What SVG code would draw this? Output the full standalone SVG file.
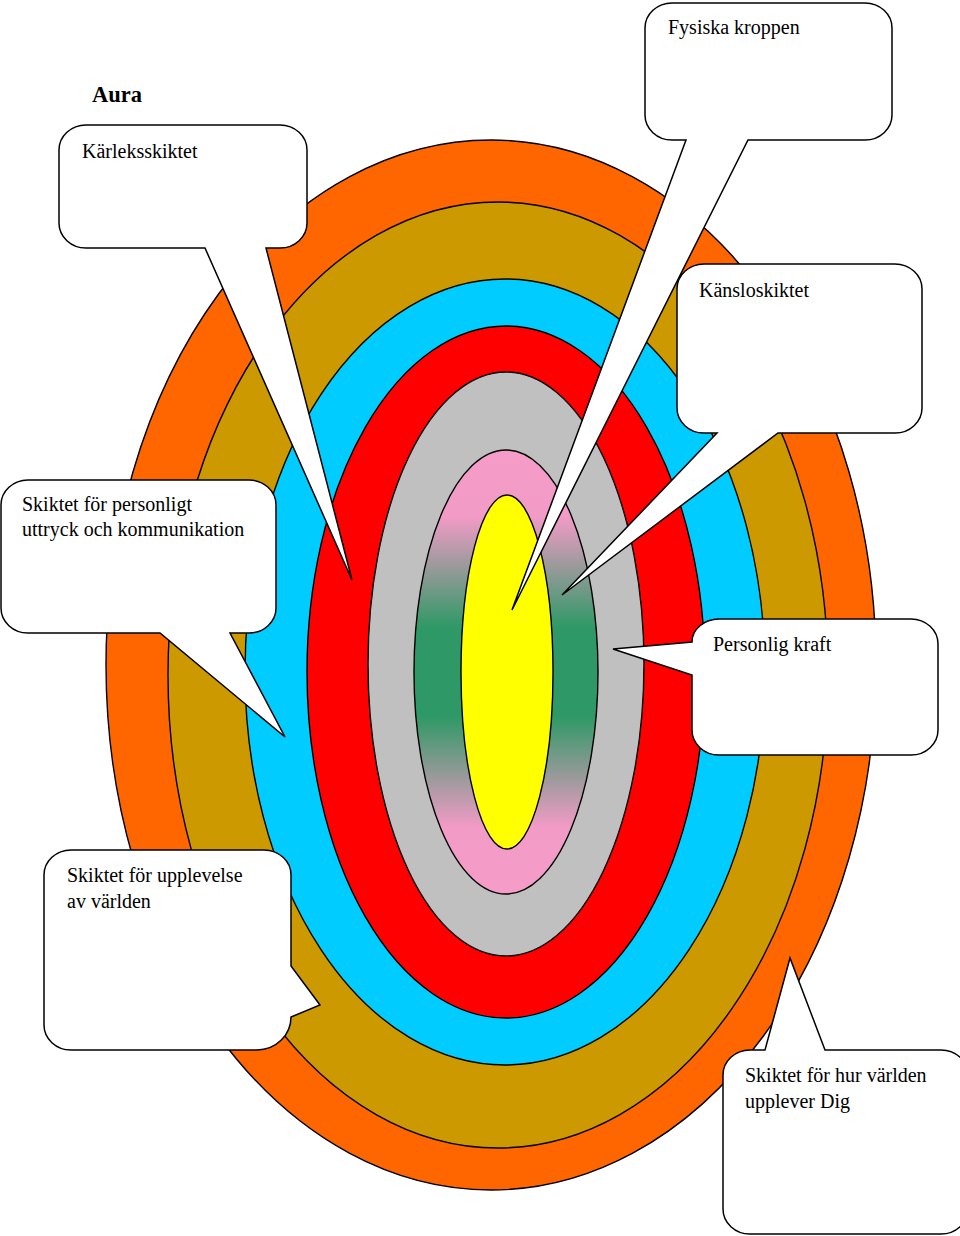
<svg xmlns="http://www.w3.org/2000/svg" width="960" height="1236" viewBox="0 0 960 1236">
  <defs>
    <linearGradient id="pinkGreen" x1="0" y1="0" x2="0" y2="1">
      <stop offset="0" stop-color="#F59CC8"/>
      <stop offset="0.15" stop-color="#F29BC6"/>
      <stop offset="0.4" stop-color="#2E9966"/>
      <stop offset="0.6" stop-color="#2E9966"/>
      <stop offset="0.85" stop-color="#F29BC6"/>
      <stop offset="1" stop-color="#F59CC8"/>
    </linearGradient>
    <style>
      .ring { stroke: #000; stroke-width: 1.4; }
      .callout { fill: #fff; stroke: #000; stroke-width: 1.5; stroke-linejoin: miter; }
      .lbl { font-family: "Liberation Serif", "Times New Roman", serif; font-size: 20px; fill: #000; }
      .title { font-family: "Liberation Serif", "Times New Roman", serif; font-size: 22.5px; font-weight: bold; fill: #000; }
    </style>
  </defs>
  <rect x="0" y="0" width="960" height="1236" fill="#fff"/>

  <g id="aura-rings">
    <ellipse id="ring-orange" class="ring" cx="491" cy="665" rx="385" ry="525" fill="#FF6600"/>
    <ellipse id="ring-gold" class="ring" cx="498" cy="675" rx="330" ry="473" fill="#CC9900"/>
    <ellipse id="ring-cyan" class="ring" cx="505" cy="672" rx="260" ry="393" fill="#00CCFF"/>
    <ellipse id="ring-red" class="ring" cx="506" cy="672" rx="199" ry="346" fill="#FF0000"/>
    <ellipse id="ring-gray" class="ring" cx="506" cy="664" rx="138" ry="292" fill="#C0C0C0"/>
    <ellipse id="ring-pink" class="ring" cx="506" cy="672" rx="92" ry="222" fill="url(#pinkGreen)"/>
    <ellipse id="ring-yellow" class="ring" cx="507" cy="672" rx="46" ry="177" fill="#FFFF00"/>
  </g>

  <g id="title">
    <text class="title" x="92" y="102">Aura</text>
  </g>

  <g id="callout-karleksskiktet">
    <path class="callout" d="M86,125 H280 A27 25 0 0 1 307,150 V223 A27 25 0 0 1 280,248 H266 L352,580 L205,248 H86 A27 25 0 0 1 59,223 V150 A27 25 0 0 1 86,125 Z"/>
    <text class="lbl" x="82" y="158">Kärleksskiktet</text>
  </g>

  <g id="callout-personligt-uttryck">
    <path class="callout" d="M28,480 H249 A27 25 0 0 1 276,505 V608 A27 25 0 0 1 249,633 H230 L285,737 L160,633 H28 A27 25 0 0 1 1,608 V505 A27 25 0 0 1 28,480 Z"/>
    <text class="lbl" x="22" y="511">Skiktet för personligt</text>
    <text class="lbl" x="22" y="536">uttryck och kommunikation</text>
  </g>

  <g id="callout-fysiska-kroppen">
    <path class="callout" d="M672,3 H865 A27 25 0 0 1 892,28 V115 A27 25 0 0 1 865,140 H748 L512,610 L686,140 H672 A27 25 0 0 1 645,115 V28 A27 25 0 0 1 672,3 Z"/>
    <text class="lbl" x="668" y="34">Fysiska kroppen</text>
  </g>

  <g id="callout-kansloskiktet">
    <path class="callout" d="M704,264 H895 A27 25 0 0 1 922,289 V408 A27 25 0 0 1 895,433 H778 L562,595 L717,433 H704 A27 25 0 0 1 677,408 V289 A27 25 0 0 1 704,264 Z"/>
    <text class="lbl" x="699" y="297">Känsloskiktet</text>
  </g>

  <g id="callout-personlig-kraft">
    <path class="callout" d="M719,619 H911 A27 25 0 0 1 938,644 V730 A27 25 0 0 1 911,755 H719 A27 25 0 0 1 692,730 V675 L613,649 L692,642 A27 23 0 0 1 719,619 Z"/>
    <text class="lbl" x="713" y="651">Personlig kraft</text>
  </g>

  <g id="callout-upplevelse-av-varlden">
    <path class="callout" d="M71,850 H264 A27 25 0 0 1 291,875 V966 L320,1005 L291,1017 A34 33 0 0 1 257,1050 H71 A27 25 0 0 1 44,1025 V875 A27 25 0 0 1 71,850 Z"/>
    <text class="lbl" x="67" y="882">Skiktet för upplevelse</text>
    <text class="lbl" x="67" y="908">av världen</text>
  </g>

  <g id="callout-hur-varlden-upplever-dig">
    <path class="callout" d="M750,1050 H765 L790,958 L825,1050 H941 A27 25 0 0 1 968,1075 V1209 A27 25 0 0 1 941,1234 H750 A27 25 0 0 1 723,1209 V1075 A27 25 0 0 1 750,1050 Z"/>
    <text class="lbl" x="745" y="1082">Skiktet för hur världen</text>
    <text class="lbl" x="745" y="1108">upplever Dig</text>
  </g>
</svg>
